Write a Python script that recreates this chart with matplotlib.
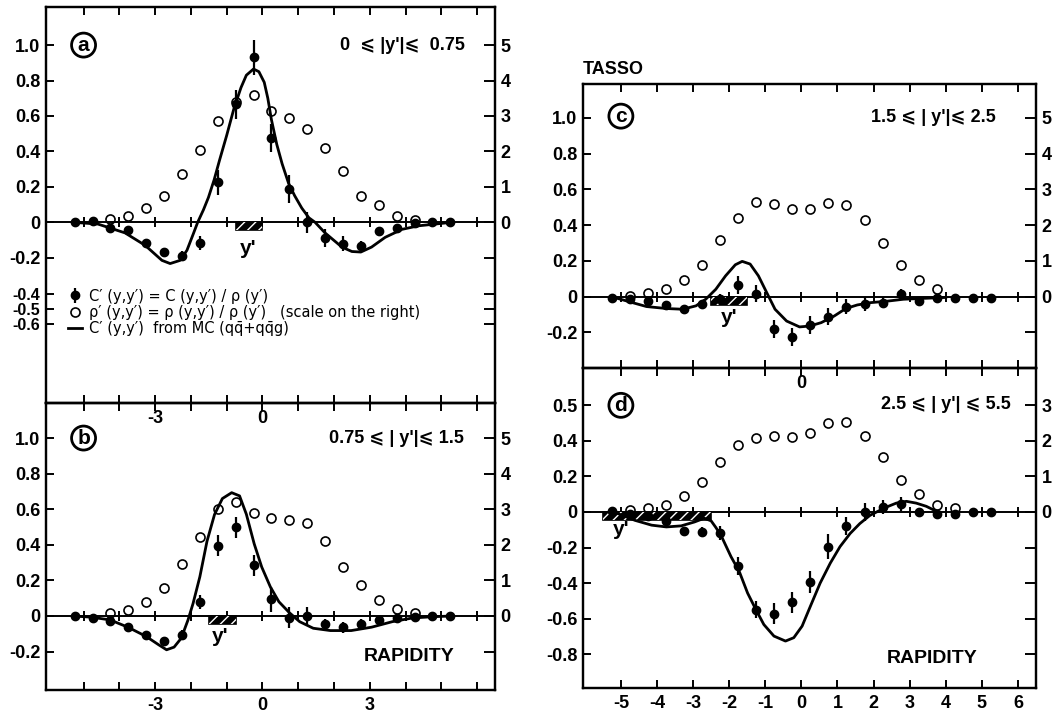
import matplotlib
matplotlib.use("Agg")
import matplotlib.pyplot as plt

plt.rcParams['font.family'] = ['Liberation Sans', 'DejaVu Sans']
plt.rcParams['mathtext.fontset'] = 'dejavusans'
plt.rcParams['hatch.linewidth'] = 1.0

# rapidity bins (centres) and integer tick positions
X = [-5.25, -4.75, -4.25, -3.75, -3.25, -2.75, -2.25, -1.75, -1.25, -0.75, -0.25,
     0.25, 0.75, 1.25, 1.75, 2.25, 2.75, 3.25, 3.75, 4.25, 4.75, 5.25]
XT = [-5, -4, -3, -2, -1, 0, 1, 2, 3, 4, 5, 6]

# y' ranges of the four panels
yp_a = (0.0, 0.75)
yp_b = (0.75, 1.5)
yp_c = (1.5, 2.5)
yp_d = (2.5, 5.5)

# C'(y,y') data with errors
c_a = [0.0, 0.01, -0.03, -0.045, -0.115, -0.17, -0.19, -0.117, 0.225, 0.665, 0.93,
       0.476, 0.186, 0.0, -0.09, -0.12, -0.135, -0.05, -0.03, -0.005, 0.0, 0.0]
e_a = [0.01, 0.01, 0.02, 0.015, 0.02, 0.025, 0.03, 0.04, 0.07, 0.08, 0.1,
       0.08, 0.08, 0.06, 0.05, 0.04, 0.03, 0.02, 0.02, 0.01, 0.01, 0.01]
c_b = [0.0, -0.013, -0.026, -0.06, -0.106, -0.138, -0.106, 0.08, 0.396, 0.498, 0.284,
       0.095, -0.01, 0.0, -0.046, -0.063, -0.045, -0.022, -0.013, -0.007, 0.0, 0.0]
e_b = [0.01, 0.01, 0.01, 0.015, 0.015, 0.02, 0.03, 0.04, 0.06, 0.06, 0.06,
       0.07, 0.06, 0.05, 0.03, 0.03, 0.03, 0.02, 0.015, 0.01, 0.01, 0.01]
c_c = [-0.006, -0.011, -0.024, -0.049, -0.071, -0.039, -0.015, 0.064, 0.017, -0.184, -0.227,
       -0.161, -0.112, -0.056, -0.043, -0.034, 0.013, -0.024, -0.01, -0.008, -0.008, -0.008]
e_c = [0.01, 0.01, 0.02, 0.015, 0.015, 0.02, 0.03, 0.05, 0.05, 0.05, 0.05,
       0.05, 0.05, 0.04, 0.04, 0.03, 0.03, 0.015, 0.01, 0.01, 0.01, 0.01]
c_d = [0.004, -0.01, -0.02, -0.05, -0.106, -0.112, -0.117, -0.303, -0.549, -0.571, -0.508,
       -0.394, -0.195, -0.08, 0.0, 0.028, 0.047, 0.0, -0.013, -0.013, -0.002, -0.002]
e_d = [0.01, 0.01, 0.01, 0.01, 0.02, 0.03, 0.04, 0.05, 0.05, 0.06, 0.06,
       0.06, 0.07, 0.05, 0.05, 0.04, 0.04, 0.02, 0.02, 0.01, 0.01, 0.01]

# rho'(y,y') (right-hand scale)
rx_a = X[2:20]
rho_a = [0.08, 0.17, 0.39, 0.75, 1.36, 2.04, 2.86, 3.4, 3.59, 3.14, 2.93, 2.63, 2.1, 1.45,
         0.75, 0.5, 0.17, 0.06]
rx_b = X[2:20]
rho_b = [0.09, 0.17, 0.39, 0.79, 1.45, 2.21, 3.0, 3.21, 2.9, 2.74, 2.71, 2.61, 2.12, 1.39,
         0.88, 0.46, 0.2, 0.09]
rx_c = X[1:19]
rho_c = [0.02, 0.11, 0.21, 0.46, 0.88, 1.58, 2.21, 2.66, 2.58, 2.44, 2.46, 2.62, 2.57, 2.13,
         1.5, 0.88, 0.45, 0.21]
rx_d = X[1:20]
rho_d = [0.07, 0.1, 0.2, 0.45, 0.85, 1.42, 1.88, 2.08, 2.14, 2.12, 2.22, 2.51, 2.54, 2.14,
         1.56, 0.91, 0.51, 0.21, 0.12]

# MC curves
mx_a = [-5.3, -4.6, -3.84, -3.28, -2.81, -2.58, -2.3, -2.11, -1.93, -1.81, -1.65, -1.51,
        -1.35, -1.2, -1.0, -0.8, -0.6, -0.45, -0.25, -0.1, 0.05, 0.15, 0.25, 0.4, 0.55,
        0.73, 0.9, 1.1, 1.3, 1.47, 1.75, 2.22, 2.5, 2.75, 3.05, 3.43, 3.9, 4.36, 4.83, 5.3]
my_a = [0.0, -0.01, -0.06, -0.13, -0.215, -0.233, -0.215, -0.158, -0.064, 0.0, 0.07, 0.14,
        0.24, 0.35, 0.49, 0.64, 0.76, 0.83, 0.865, 0.85, 0.79, 0.70, 0.58, 0.44, 0.33,
        0.22, 0.15, 0.08, 0.025, 0.0, -0.06, -0.14, -0.165, -0.168, -0.14, -0.085, -0.04,
        -0.02, -0.01, 0.0]
mx_b = [-5.28, -4.77, -4.26, -3.76, -3.25, -2.9, -2.68, -2.47, -2.27, -2.08, -1.94, -1.75,
        -1.55, -1.34, -1.12, -0.86, -0.64, -0.45, -0.23, -0.02, 0.22, 0.46, 0.75, 1.04,
        1.42, 1.9, 2.48, 3.05, 3.63, 4.2, 4.78, 5.29]
my_b = [0.0, -0.007, -0.022, -0.063, -0.115, -0.162, -0.19, -0.175, -0.125, -0.022, 0.07, 0.22,
        0.42, 0.57, 0.66, 0.693, 0.675, 0.572, 0.405, 0.275, 0.164, 0.08, 0.019, -0.032,
        -0.069, -0.082, -0.082, -0.063, -0.032, -0.011, -0.004, 0.0]
mx_c = [-5.27, -4.75, -4.29, -3.74, -3.29, -2.92, -2.65, -2.37, -2.1, -1.83, -1.64, -1.42,
        -1.19, -0.96, -0.73, -0.41, -0.05, 0.23, 0.55, 0.91, 1.23, 1.55, 1.92, 2.37, 2.83,
        3.29, 3.74, 4.0]
my_c = [0.0, -0.03, -0.056, -0.067, -0.071, -0.052, -0.015, 0.041, 0.116, 0.178, 0.197, 0.182,
        0.116, 0.022, -0.071, -0.137, -0.17, -0.165, -0.146, -0.109, -0.067, -0.047, -0.034,
        -0.026, -0.015, -0.011, -0.007, -0.005]
mx_d = [-5.07, -4.61, -4.15, -3.74, -3.33, -2.96, -2.69, -2.5, -2.38, -2.23, -1.95, -1.72,
        -1.49, -1.26, -1.04, -0.76, -0.44, -0.21, 0.02, 0.25, 0.52, 0.8, 1.07, 1.35, 1.62,
        1.9, 2.17, 2.36, 2.63, 2.91, 3.18, 3.46, 3.78]
my_d = [-0.01, -0.047, -0.074, -0.084, -0.078, -0.056, -0.035, -0.05, -0.084, -0.13, -0.251, -0.335,
        -0.456, -0.549, -0.633, -0.698, -0.726, -0.707, -0.642, -0.53, -0.4, -0.288, -0.195,
        -0.121, -0.065, -0.019, 0.009, 0.028, 0.05, 0.06, 0.05, 0.032, 0.0]

TICKFONT = dict(fontsize=13, fontweight='bold')


def draw_panel(ax, c, err, rx, rho, mx, my, yp, ylim, letter, letter_y, range_text,
               range_x, range_y, yp_label_pos, yticks, ylabels, rticks, rlabels, xlabels):
    ax.set_facecolor('none')
    ax.set_xlim(-6.05, 6.5)
    ax.set_ylim(*ylim)
    for s in ax.spines.values():
        s.set_linewidth(1.6)

    ax.axhline(0, color='black', lw=1.4, zorder=2)
    ax.plot(XT, [0] * len(XT), ls='none', marker='|', ms=7, mew=1.4, color='black', zorder=2)

    # hatched y' bin
    lo, hi = yp
    ax.bar(-(lo + hi) / 2, -0.045, width=hi - lo, bottom=0, color='black', edgecolor='black',
           linewidth=1.2, zorder=3)
    ax.bar(-(lo + hi) / 2, -0.045, width=hi - lo, bottom=0, color='none', edgecolor='white',
           hatch='///', linewidth=0, zorder=3)
    ax.text(yp_label_pos[0], yp_label_pos[1], "y'", fontsize=15, fontweight='bold',
            ha='center', va='center')

    mc_line, = ax.plot(mx, my, color='black', lw=2.0, zorder=3)
    eb = ax.errorbar(X, c, yerr=err, fmt='o', color='black', ms=6, elinewidth=1.6,
                     capsize=0, zorder=4)

    ax.set_xticks(XT)
    ax.set_xticklabels(xlabels, **TICKFONT)
    ax.tick_params(axis='x', direction='in', top=True, bottom=True, length=6, width=1.4, pad=5)
    ax.set_yticks(yticks)
    ax.set_yticklabels(ylabels, **TICKFONT)
    ax.tick_params(axis='y', direction='in', left=True, right=False, length=6, width=1.4, pad=4)

    ax2 = ax.twinx()
    ax2.set_ylim(ylim[0] * 5, ylim[1] * 5)
    op, = ax2.plot(rx, rho, 'o', mfc='none', mec='black', mew=1.2, ms=6.5, color='black')
    ax2.set_yticks(rticks)
    ax2.set_yticklabels(rlabels, **TICKFONT)
    ax2.tick_params(axis='y', direction='in', length=8, width=1.4, pad=4)
    for s in ax2.spines.values():
        s.set_linewidth(1.6)

    ax.text(-5.0, letter_y, letter, fontsize=15, fontweight='bold', ha='center', va='center',
            bbox=dict(boxstyle='circle,pad=0.12', fc='white', ec='black', lw=2.0))
    ax.text(range_x, range_y, range_text, fontsize=13, fontweight='bold', ha='right', va='center')
    return ax2, eb, op, mc_line


fig = plt.figure(figsize=(10.55, 7.19), dpi=100)
ax_a = fig.add_axes([46 / 1055, 316 / 719, 449 / 1055, 396 / 719])
ax_b = fig.add_axes([46 / 1055, 29 / 719, 449 / 1055, 287 / 719])
ax_c = fig.add_axes([583 / 1055, 351 / 719, 453 / 1055, 284 / 719])
ax_d = fig.add_axes([583 / 1055, 31 / 719, 453 / 1055, 320 / 719])

lab_ab = ['', '', '-3', '', '', '0', '', '', '3', '', '', '']
lab_a = ['', '', '-3', '', '', '0', '', '', '', '', '', '']
lab_c = ['', '', '', '', '', '0', '', '', '', '', '', '']
lab_d = ['-5', '-4', '-3', '-2', '-1', '0', '1', '2', '3', '4', '5', '6']

ax2_a, eb_a, op_a, mc_a = draw_panel(
    ax_a, c_a, e_a, rx_a, rho_a, mx_a, my_a, yp_a, (-1.02, 1.215), 'a', 1.0,
    "0  ⩽ |y'|⩽  0.75", 5.67, 1.0, (-0.4, -0.15),
    [1.0, 0.8, 0.6, 0.4, 0.2, 0, -0.2, -0.407, -0.492, -0.576],
    ['1.0', '0.8', '0.6', '0.4', '0.2', '0', '-0.2', '-0.4', '-0.5', '-0.6'],
    [-2.88, -2.46, -2.03, -1, 0, 1, 2, 3, 4, 5], ['', '', '', '', '0', '1', '2', '3', '4', '5'],
    lab_a)
for t in ax_a.get_yticklabels()[-3:]:
    t.set_fontsize(11.5)

ax2_b, _, _, _ = draw_panel(
    ax_b, c_b, e_b, rx_b, rho_b, mx_b, my_b, yp_b, (-0.416, 1.197), 'b', 1.0,
    "0.75 ⩽ | y'|⩽ 1.5", 5.64, 1.0, (-1.17, -0.115),
    [1.0, 0.8, 0.6, 0.4, 0.2, 0, -0.2],
    ['1.0', '0.8', '0.6', '0.4', '0.2', '0', '-0.2'],
    [-1, 0, 1, 2, 3, 4, 5], ['', '0', '1', '2', '3', '4', '5'],
    lab_ab)
ax2_c, _, _, _ = draw_panel(
    ax_c, c_c, e_c, rx_c, rho_c, mx_c, my_c, yp_c, (-0.40, 1.19), 'c', 1.01,
    "1.5 ⩽ | y'|⩽ 2.5", 5.39, 1.0, (-2.0, -0.118),
    [1.0, 0.8, 0.6, 0.4, 0.2, 0, -0.2],
    ['1.0', '0.8', '0.6', '0.4', '0.2', '0', '-0.2'],
    [-1, 0, 1, 2, 3, 4, 5], ['', '0', '1', '2', '3', '4', '5'],
    lab_c)
ax2_d, _, _, _ = draw_panel(
    ax_d, c_d, e_d, rx_d, rho_d, mx_d, my_d, yp_d, (-0.99, 0.81), 'd', 0.6,
    "2.5 ⩽ | y'| ⩽ 5.5", 5.79, 0.605, (-5.0, -0.1),
    [0.6, 0.4, 0.2, 0, -0.2, -0.4, -0.6, -0.8],
    ['0.5', '0.4', '0.2', '0', '-0.2', '-0.4', '-0.6', '-0.8'],
    [-4, -3, -2, -1, 0, 1, 2, 3], ['', '', '', '', '0', '1', '2', '3'],
    lab_d)

ax_b.text(4.1, -0.227, 'RAPIDITY', fontsize=14, fontweight='bold', ha='center', va='center')
ax_d.text(3.62, -0.824, 'RAPIDITY', fontsize=14, fontweight='bold', ha='center', va='center')
fig.text(583 / 1055, 1 - 70 / 719, 'TASSO', fontsize=13, fontweight='bold', ha='left', va='center')

# legend of panel a
leg = ax2_a.legend(
    [eb_a, op_a, mc_a],
    ["C′ (y,y′) = C (y,y′) / ρ (y′)",
     "ρ′ (y,y′) = ρ (y,y′) / ρ (y′)   (scale on the right)",
     "C′ (y,y′)  from MC (qq̄+qq̄g)"],
    loc='upper left', bbox_to_anchor=(0.05, 0.289), frameon=False,
    prop={'family': 'DejaVu Sans', 'size': 10.5},
    labelspacing=0.1, handlelength=0.9, handletextpad=0.5, borderpad=0, borderaxespad=0)

fig.savefig('out.png', dpi=100)
